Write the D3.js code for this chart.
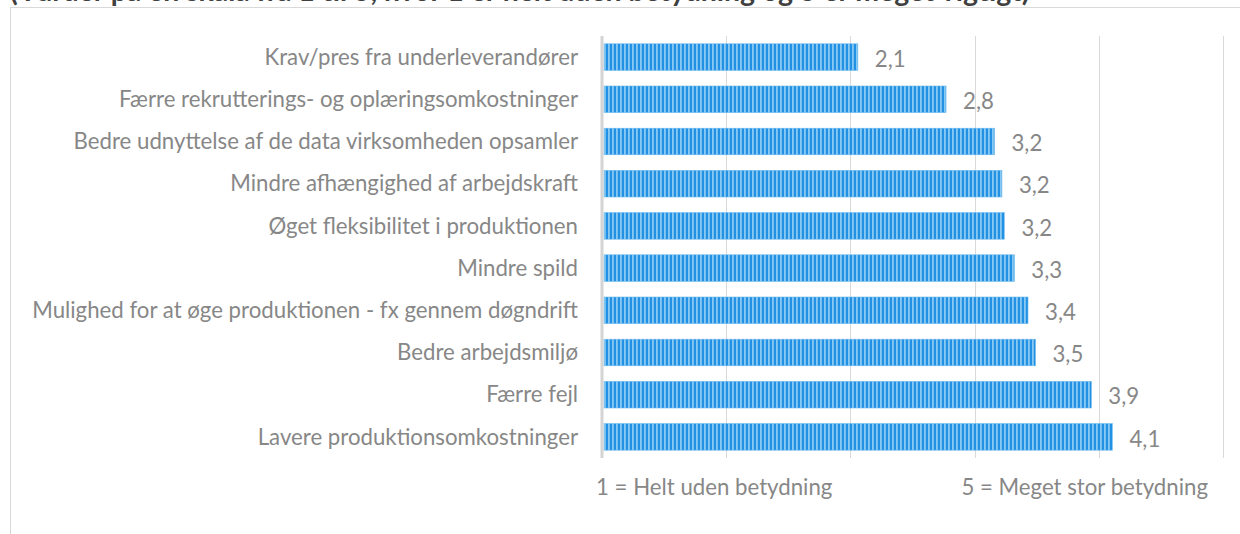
<!DOCTYPE html>
<html>
<head>
<meta charset="utf-8">
<script src="https://cdn.jsdelivr.net/npm/d3@7"></script>
<style>
  body { margin: 0; background: #fff; overflow: hidden; }
  svg { display: block; }
  text { font-family: Lato, "Open Sans", sans-serif; }
</style>
</head>
<body>
<div class="chart"></div>
<script>
// chart data
var categories = [
    "Krav/pres fra underleverandører",
    "Færre rekrutterings- og oplæringsomkostninger",
    "Bedre udnyttelse af de data virksomheden opsamler",
    "Mindre afhængighed af arbejdskraft",
    "Øget fleksibilitet i produktionen",
    "Mindre spild",
    "Mulighed for at øge produktionen - fx gennem døgndrift",
    "Bedre arbejdsmiljø",
    "Færre fejl",
    "Lavere produktionsomkostninger"
];
var values = [2.06, 2.77, 3.16, 3.22, 3.24, 3.32, 3.43, 3.49, 3.94, 4.11];
var gridTicks = [0, 1, 2, 3, 4, 5];
var axisLabels = ["1 = Helt uden betydning", "5 = Meget stor betydning"];
var title = "(Vurder på en skala fra 1 til 5, hvor 1 er helt uden betydning og 5 er meget vigtigt)";

var svgWidth = 1240;
var svgHeight = 534;

var margin = { top: 36, right: 17, bottom: 76, left: 602 };
var width = svgWidth - margin.left - margin.right;
var height = svgHeight - margin.top - margin.bottom;

var textColor = "#878787";

var svg = d3.select(".chart")
    .append("svg")
    .attr("width", svgWidth)
    .attr("height", svgHeight);

// vertical stripe fill like the excel pattern
var pattern = svg.append("defs").append("pattern")
    .attr("id", "stripes")
    .attr("patternUnits", "userSpaceOnUse")
    .attr("width", 4)
    .attr("height", 10);
pattern.append("rect").attr("width", 4).attr("height", 10).attr("fill", "#2291e3");
pattern.append("rect").attr("x", 2).attr("width", 1.8).attr("height", 10).attr("fill", "#88c9f4");

// chart area border (runs off the right/bottom edge)
svg.append("rect")
    .attr("x", 10.5)
    .attr("y", 7.5)
    .attr("width", 1300)
    .attr("height", 600)
    .attr("fill", "none")
    .attr("stroke", "#d9d9d9");

// cut-off title at the very top (it is cut in the source too)
var titleText = svg.append("text")
    .attr("x", 10)
    .attr("y", 1)
    .attr("fill", "#404040")
    .attr("font-weight", "bold")
    .attr("font-size", 20)
    .text(title);
var tw = titleText.node().getComputedTextLength();
titleText.attr("font-size", 20 * 1020 / tw);

var chartGroup = svg.append("g")
    .attr("transform", `translate(${margin.left}, ${margin.top})`);

var xScale = d3.scaleLinear()
    .domain([0, 5])
    .range([0, width]);

var yScale = d3.scaleBand()
    .domain(categories)
    .range([0, height])
    .paddingInner(0.37)
    .paddingOuter(0.185);

// gridlines
chartGroup.append("g")
    .selectAll("line")
    .data(gridTicks.slice(1))
    .enter()
    .append("line")
    .attr("x1", d => Math.round(xScale(d)) + 0.5)
    .attr("x2", d => Math.round(xScale(d)) + 0.5)
    .attr("y1", 0)
    .attr("y2", height)
    .attr("stroke", "#d9d9d9")
    .attr("stroke-width", 1);

// category labels
var labels = chartGroup.append("g")
    .selectAll("text")
    .data(categories)
    .enter()
    .append("text")
    .attr("x", -24)
    .attr("y", d => yScale(d) + yScale.bandwidth() / 2)
    .attr("dy", "0.35em")
    .attr("text-anchor", "end")
    .attr("fill", textColor)
    .attr("font-size", 20)
    .text(d => d);

// fit font size so the longest label matches the picture
var longest = d3.max(labels.nodes(), n => n.getComputedTextLength());
var fontSize = 20 * 546 / longest;
labels.attr("font-size", fontSize);

// bars
chartGroup.append("g")
    .selectAll("rect")
    .data(values)
    .enter()
    .append("rect")
    .attr("x", xScale(0) + 2)
    .attr("y", (d, i) => yScale(categories[i]))
    .attr("width", d => xScale(d) - xScale(0) - 2)
    .attr("height", yScale.bandwidth())
    .attr("fill", "url(#stripes)")
    .attr("stroke", "#6ab8ef")
    .attr("stroke-width", 0.6);

// value labels
chartGroup.append("g")
    .selectAll("text")
    .data(values)
    .enter()
    .append("text")
    .attr("x", d => xScale(d) + 17)
    .attr("y", (d, i) => yScale(categories[i]) + yScale.bandwidth() / 2 + 2)
    .attr("dy", "0.35em")
    .attr("fill", textColor)
    .attr("font-size", fontSize)
    .text(d => (Math.round(d * 10) / 10).toFixed(1).replace(".", ","));

// axis line at zero
chartGroup.append("line")
    .attr("x1", xScale(0))
    .attr("x2", xScale(0))
    .attr("y1", 0)
    .attr("y2", height)
    .attr("stroke", "#d4d4d4")
    .attr("stroke-width", 3);

// scale end labels under the axis
chartGroup.append("text")
    .attr("x", xScale(0) - 6)
    .attr("y", height + 29)
    .attr("dy", "0.35em")
    .attr("fill", textColor)
    .attr("font-size", fontSize)
    .text(axisLabels[0]);

chartGroup.append("text")
    .attr("x", xScale(5) - 15)
    .attr("y", height + 29)
    .attr("dy", "0.35em")
    .attr("text-anchor", "end")
    .attr("fill", textColor)
    .attr("font-size", fontSize)
    .text(axisLabels[1]);
</script>
</body>
</html>
